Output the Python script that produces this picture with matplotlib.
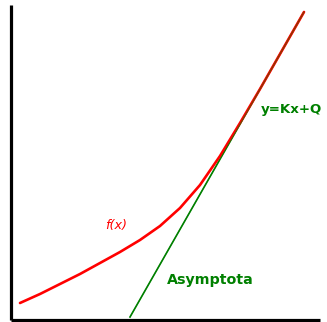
import matplotlib
matplotlib.use("Agg")
import matplotlib.pyplot as plt

# Data (pixel-like units: x right, y down)
curve_x = [20, 40, 60, 80, 100, 120, 140, 160, 180, 200, 220, 240, 260, 280, 304]
curve_y = [303, 294, 284, 274, 263, 252, 240, 226, 208, 185, 156, 123, 89, 54, 12]
asym_x = [130, 304]
asym_y = [317, 12]

label_f = "f(x)"
label_line = "y=Kx+Q"
label_asym = "Asymptota"

W, H = 327, 322
fig = plt.figure(figsize=(W / 100, H / 100), dpi=100)
ax = fig.add_axes([0, 0, 1, 1])
ax.set_xlim(0, W)
ax.set_ylim(H, 0)
ax.axis("off")

# axes lines
ax.plot([10.5, 10.5], [5, 320], color="black", lw=2.3, solid_capstyle="butt")
ax.plot([10.5, 320], [319.5, 319.5], color="black", lw=2.3, solid_capstyle="butt")

ax.plot(asym_x, asym_y, color="#008000", lw=1.2)
ax.plot(curve_x, curve_y, color="#ff0000", lw=1.9, solid_capstyle="round",
        solid_joinstyle="round")
ax.plot(asym_x, asym_y, color="#008000", lw=0.7, alpha=0.6)

ax.text(116, 225, label_f, color="#ff0000", fontsize=9.2, style="italic",
        ha="center", va="center", family="DejaVu Sans")
ax.text(291, 109, label_line, color="#008000", fontsize=9.6, fontweight="bold",
        ha="center", va="center", family="DejaVu Sans")
ax.text(210, 280, label_asym, color="#008000", fontsize=10.3, fontweight="bold",
        ha="center", va="center", family="DejaVu Sans")

fig.savefig("out.png", dpi=100, facecolor="white")
